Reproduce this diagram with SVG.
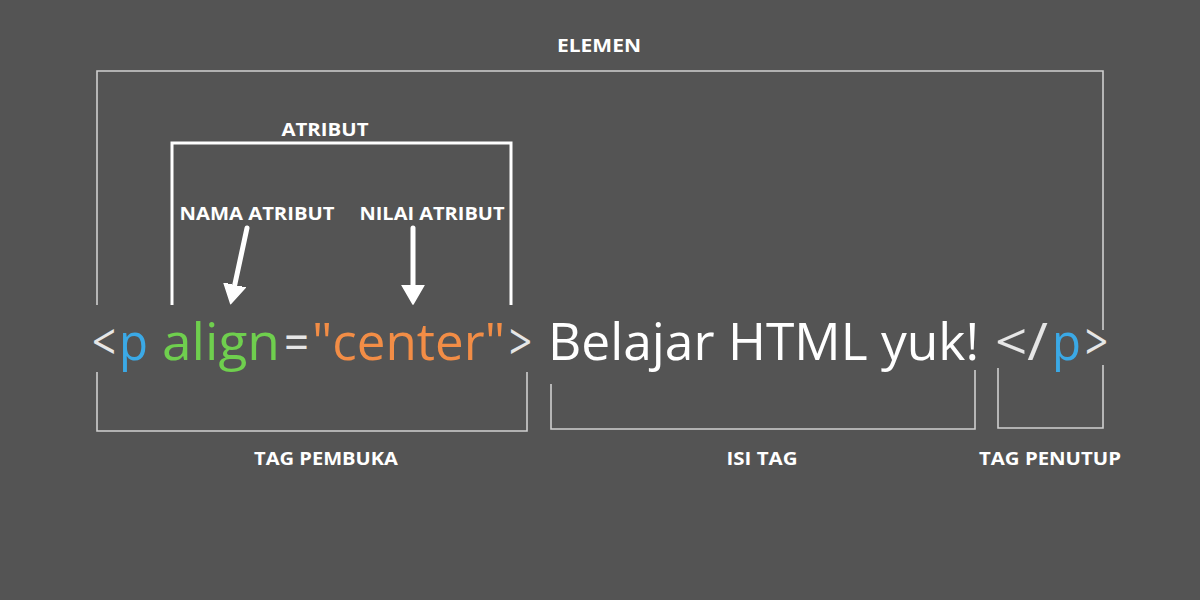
<svg xmlns="http://www.w3.org/2000/svg" width="1200" height="600" viewBox="0 0 1200 600">
<defs>
<style>
.lbl{font-family:"Open Sans","Liberation Sans",sans-serif;font-weight:700;fill:#ffffff;font-size:17px;text-anchor:middle}
.code{font-family:"Open Sans","Noto Sans","Liberation Sans",sans-serif;font-weight:400;font-size:52px}
.thin{fill:none;stroke:#cfcfcf;stroke-width:1.6}
.thick{fill:none;stroke:#ffffff;stroke-width:3}
.arrow{stroke:#ffffff;stroke-width:5;stroke-linecap:round;fill:none}
</style>
<marker id="head" markerUnits="userSpaceOnUse" viewBox="0 0 20 24" refX="1" refY="12" markerWidth="20" markerHeight="24" orient="auto">
<path d="M0,1 L19,12 L0,23 z" fill="#ffffff" stroke="#ffffff" stroke-width="1.5" stroke-linejoin="round"/>
</marker>
</defs>
<rect width="1200" height="600" fill="#545454"/>

<g id="connectors">
<path class="thin" d="M97,305 V71 H1103 V330" stroke="#a8a8a8"/>
<path class="thick" d="M172,305 V143 H511 V305"/>
<path class="thin" d="M97,372 V431 H527 V372"/>
<path class="thin" d="M551,384 V429 H975 V370"/>
<path class="thin" d="M998,368 V428 H1103 V365"/>
<line class="arrow" x1="247" y1="228" x2="234.5" y2="286" marker-end="url(#head)"/>
<line class="arrow" x1="413" y1="228" x2="413" y2="286" marker-end="url(#head)"/>
</g>

<g id="elemen"><text class="lbl" x="599" y="52" textLength="84" lengthAdjust="spacingAndGlyphs">ELEMEN</text></g>
<g id="atribut"><text class="lbl" x="325" y="136" textLength="87" lengthAdjust="spacingAndGlyphs">ATRIBUT</text></g>
<g id="nama-atribut"><text class="lbl" x="257" y="220" textLength="155" lengthAdjust="spacingAndGlyphs">NAMA ATRIBUT</text></g>
<g id="nilai-atribut"><text class="lbl" x="432" y="220" textLength="145" lengthAdjust="spacingAndGlyphs">NILAI ATRIBUT</text></g>
<g id="tag-pembuka"><text class="lbl" x="326" y="465" textLength="144" lengthAdjust="spacingAndGlyphs">TAG PEMBUKA</text></g>
<g id="isi-tag"><text class="lbl" x="762" y="465" textLength="71" lengthAdjust="spacingAndGlyphs">ISI TAG</text></g>
<g id="tag-penutup"><text class="lbl" x="1050" y="465" textLength="142" lengthAdjust="spacingAndGlyphs">TAG PENUTUP</text></g>

<g id="code" class="code">
<text x="92" y="360" fill="#e6e6e6" textLength="24" lengthAdjust="spacingAndGlyphs">&lt;</text>
<text x="119" y="360" fill="#3ba9e6" textLength="29" lengthAdjust="spacingAndGlyphs">p</text>
<text x="162" y="360" fill="#6fcf4e" textLength="118" lengthAdjust="spacingAndGlyphs">align</text>
<text x="284" y="360" fill="#e6e6e6" textLength="25" lengthAdjust="spacingAndGlyphs">=</text>
<text x="312" y="360" fill="#f28d46" textLength="193" lengthAdjust="spacingAndGlyphs">"center"</text>
<text x="509" y="360" fill="#e6e6e6" textLength="23" lengthAdjust="spacingAndGlyphs">&gt;</text>
<text x="548" y="360" fill="#ffffff" textLength="431" lengthAdjust="spacingAndGlyphs">Belajar HTML yuk!</text>
<text x="995" y="360" fill="#e6e6e6" textLength="53" lengthAdjust="spacingAndGlyphs">&lt;/</text>
<text x="1052" y="360" fill="#3ba9e6" textLength="29" lengthAdjust="spacingAndGlyphs">p</text>
<text x="1085" y="360" fill="#e6e6e6" textLength="23" lengthAdjust="spacingAndGlyphs">&gt;</text>
</g>
</svg>
